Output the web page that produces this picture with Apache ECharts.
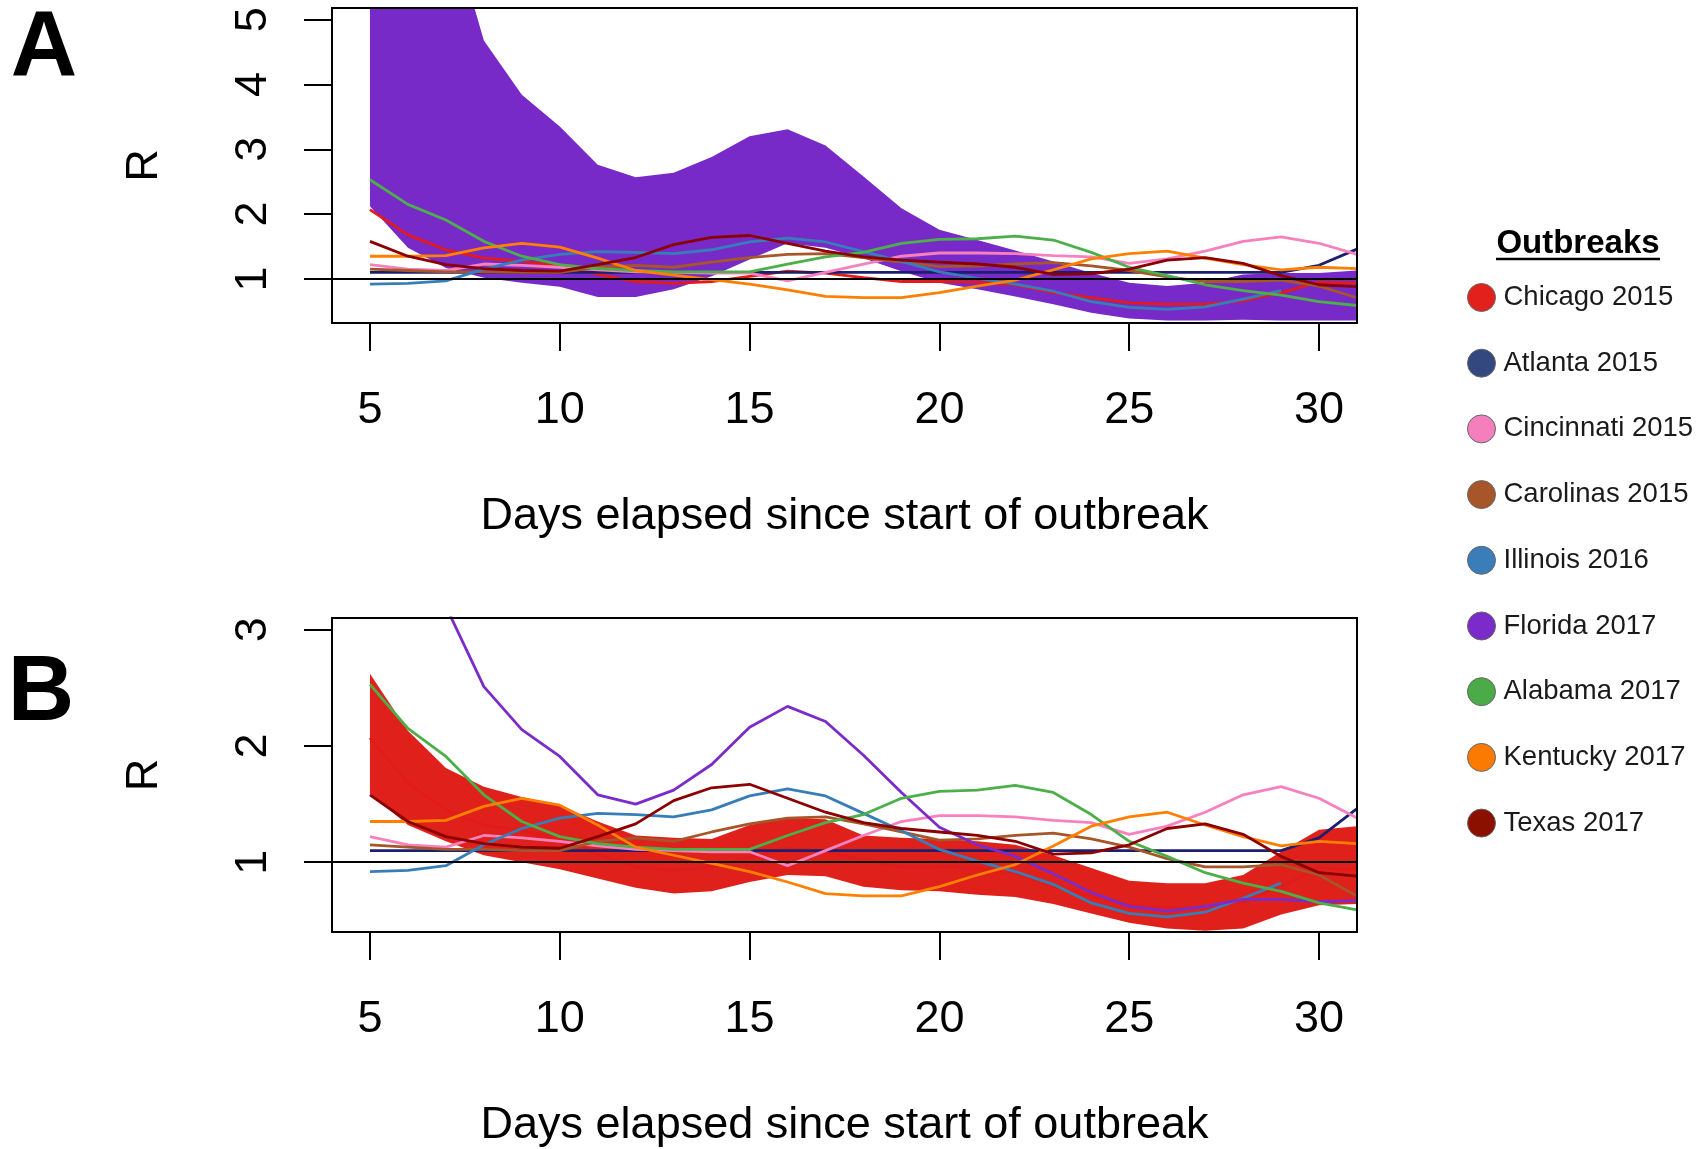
<!DOCTYPE html>
<html><head><meta charset="utf-8">
<script src="https://cdn.jsdelivr.net/npm/echarts@6/dist/echarts.min.js"></script>
<style>html,body{margin:0;padding:0;background:#fff}#c{width:1707px;height:1149px}</style>
</head><body><div id="c"></div>
<script>
// ---------- data ----------
const days = [5,6,7,8,9,10,11,12,13,14,15,16,17,18,19,20,21,22,23,24,25,26,27,28,29,30,31];
const xTicks = [5,10,15,20,25,30];
const xRange = [4,31];
const yTicksA = [1,2,3,4,5];
const yRangeA = [0.32,5.18];
const yTicksB = [1,2,3];
const yRangeB = [0.4,3.1];
const refR = 1;

const outbreakNames = ['Chicago 2015','Atlanta 2015','Cincinnati 2015','Carolinas 2015','Illinois 2016','Florida 2017','Alabama 2017','Kentucky 2017','Texas 2017'];

const chicago    = [2.07,1.68,1.45,1.32,1.27,1.20,1.07,0.96,0.93,0.96,1.04,1.12,1.09,1.02,0.96,0.96,0.95,0.91,0.79,0.71,0.63,0.61,0.61,0.66,0.79,0.95,0.94];
const atlanta    = [1.10,1.10,1.10,1.10,1.10,1.10,1.10,1.10,1.10,1.10,1.10,1.10,1.10,1.10,1.10,1.10,1.10,1.10,1.10,1.10,1.10,1.10,1.10,1.10,1.10,1.21,1.46];
const cincinnati = [1.22,1.15,1.13,1.23,1.21,1.18,1.14,1.11,1.10,1.09,1.09,0.97,1.10,1.23,1.35,1.40,1.40,1.39,1.36,1.34,1.24,1.31,1.43,1.58,1.65,1.55,1.38];
const carolinas  = [1.15,1.13,1.11,1.11,1.10,1.10,1.18,1.21,1.18,1.26,1.33,1.38,1.39,1.33,1.26,1.19,1.20,1.23,1.25,1.20,1.13,1.03,0.96,0.96,0.98,0.89,0.71];
const illinois   = [0.92,0.93,0.97,1.15,1.29,1.38,1.42,1.41,1.39,1.45,1.57,1.63,1.57,1.42,1.27,1.11,1.01,0.92,0.81,0.65,0.56,0.53,0.57,0.69,0.82,null,null];
const florida    = [4.6,3.9,3.2,2.51,2.14,1.91,1.58,1.50,1.62,1.84,2.16,2.34,2.21,1.92,1.60,1.30,1.15,1.05,0.90,0.74,0.62,0.58,0.62,0.68,0.68,0.66,0.67];
const alabama    = [2.53,2.15,1.91,1.58,1.35,1.22,1.16,1.13,1.11,1.11,1.11,1.23,1.34,1.41,1.55,1.61,1.62,1.66,1.60,1.41,1.18,1.05,0.91,0.82,0.75,0.65,0.59];
const kentucky   = [1.35,1.35,1.36,1.48,1.55,1.49,1.32,1.13,1.06,0.99,0.92,0.83,0.73,0.71,0.71,0.79,0.89,0.98,1.14,1.31,1.39,1.43,1.32,1.22,1.14,1.18,1.16];
const texas      = [1.58,1.35,1.22,1.16,1.13,1.12,1.22,1.33,1.53,1.64,1.67,1.55,1.43,1.34,1.29,1.26,1.23,1.18,1.07,1.08,1.15,1.29,1.33,1.24,1.05,0.91,0.88];

const floridaUpper = [8.8,7.6,6.7,4.68,3.84,3.35,2.76,2.57,2.64,2.88,3.20,3.31,3.06,2.58,2.09,1.76,1.60,1.44,1.27,1.09,0.94,0.89,0.94,1.07,1.09,1.09,1.13];
const floridaLower = [2.12,1.48,1.17,1.02,0.94,0.88,0.72,0.72,0.84,1.04,1.30,1.55,1.48,1.32,1.12,0.94,0.84,0.73,0.61,0.48,0.39,0.36,0.36,0.37,0.36,0.36,0.36];
const chicagoUpper = [2.62,2.13,1.81,1.65,1.56,1.49,1.35,1.23,1.21,1.20,1.32,1.38,1.37,1.23,1.21,1.20,1.18,1.15,1.06,0.95,0.84,0.82,0.82,0.89,1.09,1.28,1.31];
const chicagoLower = [1.59,1.32,1.18,1.06,1.00,0.94,0.86,0.78,0.73,0.75,0.83,0.89,0.88,0.79,0.76,0.75,0.72,0.70,0.64,0.56,0.48,0.43,0.41,0.43,0.55,0.63,0.64];

// ---------- styles ----------
const lineColors   = ['#e31a1c','#1c1f6e','#f781bf','#a65628','#377eb8','#7a2bc9','#4daf4a','#ff7f00','#8b0000'];
const legendColors = ['#e3211c','#33487f','#f57fbd','#a65628','#3a7db9','#7a2bc9','#4aab48','#fb7b00','#8c1000'];
const FONT = "'Liberation Sans', Arial, Helvetica, sans-serif";

const seriesValues = [chicago, atlanta, cincinnati, carolinas, illinois, florida, alabama, kentucky, texas];

function pairs(arr){ const out=[]; days.forEach((d,i)=>{ if(arr[i]!==null && arr[i]!==undefined) out.push([d,arr[i]]); }); return out; }

function bandSeries(gi, up, lo, color, key){
  return {
    type:'custom', name:key, xAxisIndex:gi, yAxisIndex:gi, clip:true, silent:true, z:1,
    data: days.map((d,i)=>[d, lo[i], up[i]]),
    encode:{x:0, y:[1,2]},
    renderItem:function(params, api){
      if(params.dataIndex !== 0) return null;
      const pts = [];
      for(let i=0;i<days.length;i++) pts.push(api.coord([days[i], up[i]]));
      for(let i=days.length-1;i>=0;i--) pts.push(api.coord([days[i], lo[i]]));
      const cs = params.coordSys;
      return {type:'polygon', shape:{points:pts}, style:{fill:color, stroke:null},
        clipPath:{type:'rect', shape:{x:cs.x, y:cs.y, width:cs.width, height:cs.height}}};
    }
  };
}
// skipIndex: the outbreak shown as a band in that panel (its median line is hidden inside the band)
function lineSeries(gi, skipIndex){
  const out = [];
  seriesValues.forEach((vals,k)=>{
    if(k===skipIndex) return;
    const s = {type:'line', name:outbreakNames[k], xAxisIndex:gi, yAxisIndex:gi, data:pairs(vals), symbol:'none',
      lineStyle:{color:lineColors[k], width:2.8}, itemStyle:{color:lineColors[k]}, silent:true, clip:true, z:2};
    if(k===seriesValues.length-1){
      s.markLine = {silent:true, symbol:['none','none'], label:{show:false}, animation:false,
        lineStyle:{color:'#000', width:2, type:'solid'}, data:[{yAxis:refR}]};
    }
    out.push(s);
  });
  return out;
}

function xAx(gi){
  return {type:'value', gridIndex:gi, min:xRange[0], max:xRange[1],
    axisLine:{show:false},
    axisTick:{show:true, length:28, inside:false, lineStyle:{color:'#000', width:2}, customValues:xTicks},
    axisLabel:{customValues:xTicks, margin:65, fontSize:45, color:'#000', fontFamily:FONT},
    splitLine:{show:false},
    name:'Days elapsed since start of outbreak', nameLocation:'middle', nameGap:171,
    nameTextStyle:{fontSize:45, color:'#000', fontFamily:FONT}};
}
function yAx(gi, range, ticks){
  return {type:'value', gridIndex:gi, min:range[0], max:range[1],
    axisLine:{show:false},
    axisTick:{show:true, length:28, inside:false, lineStyle:{color:'#000', width:2}, customValues:ticks},
    axisLabel:{customValues:ticks, rotate:90, margin:56, fontSize:45, color:'#000', fontFamily:FONT},
    splitLine:{show:false},
    name:'R', nameLocation:'middle', nameRotate:90, nameGap:165,
    nameTextStyle:{fontSize:45, color:'#000', fontFamily:FONT}};
}

const chart = echarts.init(document.getElementById('c'), null, {renderer:'canvas'});
chart.setOption({
  animation:false,
  backgroundColor:'#fff',
  grid:[
    {left:332, top:8, width:1025, height:315, show:true, borderColor:'#000', borderWidth:2, backgroundColor:'transparent', z:5},
    {left:332, top:618, width:1025, height:315, show:true, borderColor:'#000', borderWidth:2, backgroundColor:'transparent', z:5}
  ],
  xAxis:[xAx(0), xAx(1)],
  yAxis:[yAx(0, yRangeA, yTicksA), yAx(1, yRangeB, yTicksB)],
  legend:{orient:'vertical', left:1467, top:283, itemWidth:28, itemHeight:28, itemGap:36.7, icon:'circle', padding:0,
    selectedMode:false,
    textStyle:{fontSize:27.5, color:'#1a1a1a', fontFamily:FONT, padding:[0,0,0,3]},
    itemStyle:{borderColor:'#666', borderWidth:1},
    data: outbreakNames.map((n,i)=>({name:n, itemStyle:{color:legendColors[i], borderColor:'#666', borderWidth:1}}))},
  graphic:[
    {type:'text', style:{x:44, y:50, text:'A', font:"bold 92px "+FONT, fill:'#000', textAlign:'center', textVerticalAlign:'middle'}},
    {type:'text', style:{x:41, y:695, text:'B', font:"bold 92px "+FONT, fill:'#000', textAlign:'center', textVerticalAlign:'middle'}},
    {type:'text', style:{x:1578, y:244, text:'Outbreaks', font:"bold 33px "+FONT, fill:'#000', textAlign:'center', textVerticalAlign:'middle'}},
    {type:'line', shape:{x1:1496, y1:259, x2:1660, y2:259}, style:{stroke:'#000', lineWidth:2.5}}
  ],
  series:[
    bandSeries(0, floridaUpper, floridaLower, '#772ac8', 'FloridaBand'),
    ...lineSeries(0, 5),
    bandSeries(1, chicagoUpper, chicagoLower, '#e0201a', 'ChicagoBand'),
    ...lineSeries(1, -1)
  ]
});
</script>
</body></html>
